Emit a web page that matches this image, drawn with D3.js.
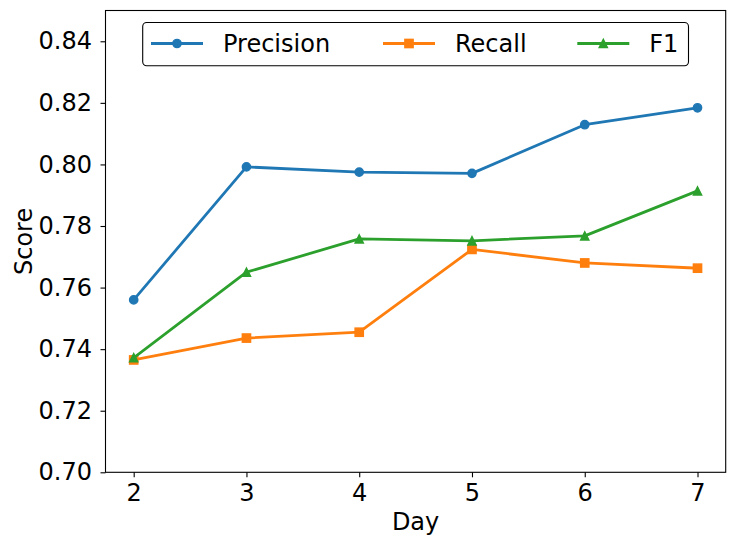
<!DOCTYPE html>
<html>
<head>
<meta charset="utf-8">
<script src="https://cdn.jsdelivr.net/npm/d3@7"></script>
<style>
  body { margin: 0; background: #fff; }
  text { font-family: "DejaVu Sans", sans-serif; }
</style>
</head>
<body>
<div id="chart"></div>
<script>
// data
var days = [2, 3, 4, 5, 6, 7];
var precision = [0.7560, 0.7992, 0.7975, 0.7971, 0.8129, 0.8184];
var recall = [0.7365, 0.7436, 0.7455, 0.7724, 0.7680, 0.7663];
var f1 = [0.7372, 0.7650, 0.7758, 0.7752, 0.7768, 0.7914];
var yTicks = [0.70, 0.72, 0.74, 0.76, 0.78, 0.80, 0.82, 0.84];

var series = [
  { name: "Precision", values: precision, color: "#1f77b4", marker: "circle" },
  { name: "Recall", values: recall, color: "#ff7f0e", marker: "square" },
  { name: "F1", values: f1, color: "#2ca02c", marker: "triangle" }
];

var svgWidth = 735;
var svgHeight = 545;
var margin = { top: 10.5, right: 9.3, bottom: 72.7, left: 105.5 };
var width = svgWidth - margin.left - margin.right;
var height = svgHeight - margin.top - margin.bottom;
var fontSize = 24;
var tickLen = 5;

var svg = d3.select("#chart").append("svg")
  .attr("width", svgWidth)
  .attr("height", svgHeight);

var chartGroup = svg.append("g")
  .attr("transform", `translate(${margin.left}, ${margin.top})`);

var x = d3.scaleLinear().domain([1.75, 7.25]).range([0, width]);
var y = d3.scaleLinear().domain([0.70, 0.85]).range([height, 0]);

// axes
var xAxis = chartGroup.append("g")
  .attr("transform", `translate(0, ${height})`)
  .call(d3.axisBottom(x).tickValues(days).tickFormat(d3.format("d"))
    .tickSizeInner(tickLen).tickSizeOuter(0).tickPadding(7));

var yAxis = chartGroup.append("g")
  .call(d3.axisLeft(y).tickValues(yTicks).tickFormat(d3.format(".2f"))
    .tickSizeInner(tickLen).tickSizeOuter(0).tickPadding(8.5));

[xAxis, yAxis].forEach(function(a) {
  a.select(".domain").remove();
  a.selectAll("line").attr("stroke", "#000").attr("stroke-width", 1.1);
  a.selectAll("text").attr("font-size", fontSize).attr("fill", "#000")
    .attr("font-family", "DejaVu Sans, sans-serif");
});

// frame
chartGroup.append("rect")
  .attr("width", width)
  .attr("height", height)
  .attr("fill", "none")
  .attr("stroke", "#000")
  .attr("stroke-width", 1.1);

// marker shapes
function drawMarker(g, type, cx, cy, color) {
  var s = 8.3;
  if (type === "circle") {
    g.append("circle").attr("cx", cx).attr("cy", cy).attr("r", s / 2)
      .attr("fill", color).attr("stroke", color).attr("stroke-width", 1.39);
  } else if (type === "square") {
    g.append("rect").attr("x", cx - s / 2).attr("y", cy - s / 2)
      .attr("width", s).attr("height", s)
      .attr("fill", color).attr("stroke", color).attr("stroke-width", 1.39);
  } else {
    var h = s / 2;
    g.append("path")
      .attr("d", `M${cx},${cy - h}L${cx - h},${cy + h}L${cx + h},${cy + h}Z`)
      .attr("fill", color).attr("stroke", color).attr("stroke-width", 1.39);
  }
}

var line = d3.line()
  .x((d, i) => x(days[i]))
  .y(d => y(d));

series.forEach(function(s) {
  var g = chartGroup.append("g");
  g.append("path")
    .attr("d", line(s.values))
    .attr("fill", "none")
    .attr("stroke", s.color)
    .attr("stroke-width", 2.78)
    .attr("stroke-linejoin", "round")
    .attr("stroke-linecap", "square");
  s.values.forEach(function(v, i) {
    drawMarker(g, s.marker, x(days[i]), y(v), s.color);
  });
});

// axis labels
svg.append("text")
  .attr("x", margin.left + width / 2)
  .attr("y", 530)
  .attr("text-anchor", "middle")
  .attr("font-size", fontSize)
  .text("Day");

svg.append("text")
  .attr("transform", `translate(31.5, ${margin.top + height / 2}) rotate(-90)`)
  .attr("text-anchor", "middle")
  .attr("font-size", fontSize)
  .text("Score");

// legend
var legend = svg.append("g");
legend.append("rect")
  .attr("x", 142.7)
  .attr("y", 22.5)
  .attr("width", 545.8)
  .attr("height", 43.2)
  .attr("rx", 4)
  .attr("fill", "#fff")
  .attr("fill-opacity", 0.8)
  .attr("stroke", "#000")
  .attr("stroke-width", 1.1);

var legendX = [151, 383, 577.3];
series.forEach(function(s, i) {
  var lx = legendX[i];
  var ly = 43.5;
  legend.append("line")
    .attr("x1", lx).attr("x2", lx + 52)
    .attr("y1", ly).attr("y2", ly)
    .attr("stroke", s.color).attr("stroke-width", 2.78);
  drawMarker(legend, s.marker, lx + 26, ly, s.color);
  legend.append("text")
    .attr("x", lx + 72)
    .attr("y", 51.5)
    .attr("font-size", fontSize)
    .text(s.name);
});
</script>
</body>
</html>
